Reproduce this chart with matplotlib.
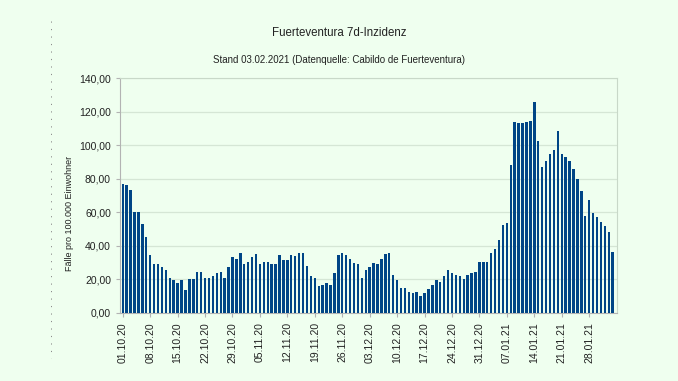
import numpy as np
import matplotlib.pyplot as plt
from matplotlib.lines import Line2D
from matplotlib.ticker import FuncFormatter

# 7-Tage-Inzidenz, 01.10.2020 - 03.02.2021 (ein Wert pro Tag)
values = [77.0, 76.0, 73.4, 60.4, 60.4, 52.9, 45.1, 34.8, 29.0, 29.0,
          27.2, 25.4, 21.0, 19.5, 17.9, 19.5, 13.5, 20.3, 20.3, 24.7,
          24.7, 21.0, 21.0, 22.0, 23.9, 24.7, 21.0, 27.2, 33.2, 32.4,
          36.0, 29.0, 30.6, 33.2, 35.0, 29.0, 30.6, 30.6, 29.0, 29.0,
          34.8, 31.6, 31.6, 34.8, 34.2, 35.8, 35.8, 28.0, 22.1, 21.1,
          16.1, 16.9, 17.9, 16.9, 23.9, 34.8, 35.8, 34.8, 32.4, 29.8,
          29.0, 21.1, 25.4, 27.2, 29.8, 29.0, 32.4, 35.0, 36.0, 22.9,
          19.5, 15.1, 15.1, 12.5, 11.7, 12.5, 9.9, 11.7, 14.3, 16.9,
          19.5, 18.7, 22.1, 25.4, 23.9, 22.9, 22.1, 20.3, 22.9, 23.9,
          24.7, 30.6, 30.6, 30.6, 35.8, 38.2, 43.3, 52.7, 53.5, 87.9,
          113.7, 112.9, 112.9, 113.7, 114.5, 125.6, 102.6, 87.1, 90.7, 94.6,
          97.2, 108.5, 94.6, 93.0, 90.7, 85.5, 80.1, 72.6, 57.9, 67.4,
          59.6, 57.1, 54.5, 51.9, 48.5, 36.4]

tick_labels = ["01.10.20", "08.10.20", "15.10.20", "22.10.20", "29.10.20",
               "05.11.20", "12.11.20", "19.11.20", "26.11.20", "03.12.20",
               "10.12.20", "17.12.20", "24.12.20", "31.12.20", "07.01.21",
               "14.01.21", "21.01.21", "28.01.21"]

bg = "#efffef"
plt.rcParams["font.family"] = ["Liberation Sans", "DejaVu Sans"]

fig = plt.figure(figsize=(6.78, 3.81), dpi=100, facecolor=bg)
ax = fig.add_axes([120 / 678, 1 - 313 / 381, 497 / 678, 235 / 381])
ax.set_facecolor(bg)

x = np.arange(len(values))
ax.bar(x, values, width=0.62, color="#004586", zorder=3)

ax.set_xlim(-0.7, 126.1)
ax.set_ylim(0, 140)
ax.set_yticks(np.arange(0, 141, 20))
ax.yaxis.set_major_formatter(FuncFormatter(lambda v, p: f"{v:.2f}".replace(".", ",")))
ax.set_xticks(x[::7])
ax.set_xticklabels(tick_labels, rotation=90)
ax.tick_params(axis="both", labelsize=7.5, colors="#b3b3b3", labelcolor="#222222",
               length=3, width=0.8)
ax.grid(axis="y", color="#d5e6d5", linewidth=0.9, zorder=0)
for s in ax.spines.values():
    s.set_color("#c8d8c8")
    s.set_linewidth(0.8)
ax.spines["left"].set_color("#b3b3b3")
ax.spines["bottom"].set_color("#b3b3b3")

fig.text(70 / 678, 1 - 213 / 381, "Fälle pro 100.000 Einwohner", rotation=90,
         ha="center", va="center", fontsize=6.5, color="#222222")

fig.text(0.5, 1 - 33 / 381, "Fuerteventura 7d-Inzidenz", ha="center", va="center",
         fontsize=8.3, color="#222222")
fig.text(0.5, 1 - 60 / 381, "Stand 03.02.2021 (Datenquelle: Cabildo de Fuerteventura)",
         ha="center", va="center", fontsize=7, color="#222222")

# dotted column at the left edge
fig.add_artist(Line2D([51 / 678, 51 / 678], [1 - 21 / 381, 1 - 358 / 381],
                      transform=fig.transFigure, color="#8a8a8a", linewidth=0.7,
                      dashes=(1.2, 6.5)))

fig.savefig("out.png", dpi=100, facecolor=bg)
